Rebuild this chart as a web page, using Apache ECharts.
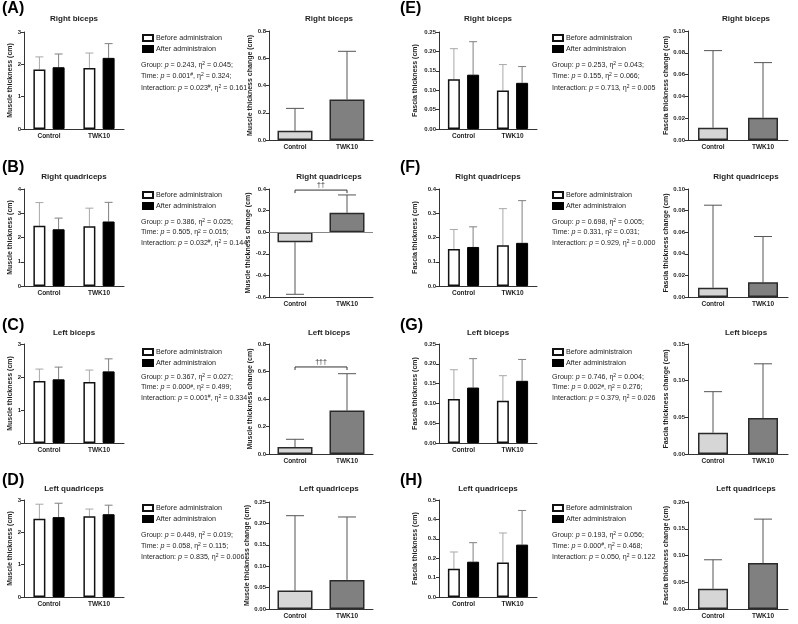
<!DOCTYPE html>
<html><head><meta charset="utf-8">
<script src="https://cdn.jsdelivr.net/npm/echarts@6/dist/echarts.min.js"></script>
<style>html,body{margin:0;padding:0;background:#fff}#c{width:798px;height:624px}</style>
</head><body><div id="c"></div>
<script>
const categories = ['Control', 'TWK10'];
const panelLetters = ['(A)', '(B)', '(C)', '(D)', '(E)', '(F)', '(G)', '(H)'];
const panelTitles = ['Right biceps', 'Right quadriceps', 'Left biceps', 'Left quadriceps',
                     'Right biceps', 'Right quadriceps', 'Left biceps', 'Left quadriceps'];
const legendNames = ['Before administraion', 'After administraion'];
const statLabels = ['Group', 'Time', 'Interaction'];

// Muscle thickness (cm): mean and SD, [Control, TWK10]
const A_before = [1.84, 1.89], A_beforeSD = [0.39, 0.46];
const A_after = [1.91, 2.20], A_afterSD = [0.41, 0.44];
const A_change = [0.068, 0.298], A_changeSD = [0.164, 0.353];
const A_p = ['0.243', '0.001#', '0.023#'], A_eta = ['0.045', '0.324', '0.161'];

const B_before = [2.48, 2.46], B_beforeSD = [0.96, 0.75];
const B_after = [2.34, 2.66], B_afterSD = [0.46, 0.79];
const B_change = [-0.093, 0.18], B_changeSD = [0.482, 0.165];
const B_p = ['0.386', '0.505', '0.032#'], B_eta = ['0.025', '0.015', '0.144'];

const C_before = [1.88, 1.85], C_beforeSD = [0.36, 0.36];
const C_after = [1.93, 2.17], C_afterSD = [0.37, 0.38];
const C_change = [0.051, 0.316], C_changeSD = [0.056, 0.268];
const C_p = ['0.367', '0.000#', '0.001#'], C_eta = ['0.027', '0.499', '0.334'];

const D_before = [2.42, 2.50], D_beforeSD = [0.45, 0.22];
const D_after = [2.47, 2.56], D_afterSD = [0.43, 0.28];
const D_change = [0.043, 0.068], D_changeSD = [0.175, 0.147];
const D_p = ['0.449', '0.058', '0.835'], D_eta = ['0.019', '0.115', '0.006'];

// Fascia thickness (cm)
const E_before = [0.128, 0.099], E_beforeSD = [0.079, 0.067];
const E_after = [0.140, 0.119], E_afterSD = [0.085, 0.042];
const E_change = [0.0113, 0.0204], E_changeSD = [0.0707, 0.0506];
const E_p = ['0.253', '0.155', '0.713'], E_eta = ['0.043', '0.066', '0.005'];

const F_before = [0.153, 0.168], F_beforeSD = [0.080, 0.151];
const F_after = [0.161, 0.178], F_afterSD = [0.083, 0.174];
const F_change = [0.0086, 0.0136], F_changeSD = [0.0764, 0.0424];
const F_p = ['0.698', '0.331', '0.929'], F_eta = ['0.005', '0.031', '0.000'];

const G_before = [0.111, 0.107], G_beforeSD = [0.074, 0.063];
const G_after = [0.140, 0.157], G_afterSD = [0.073, 0.054];
const G_change = [0.029, 0.049], G_changeSD = [0.056, 0.074];
const G_p = ['0.746', '0.002#', '0.379'], G_eta = ['0.004', '0.276', '0.026'];

const H_before = [0.145, 0.178], H_beforeSD = [0.087, 0.152];
const H_after = [0.182, 0.270], H_afterSD = [0.098, 0.176];
const H_change = [0.038, 0.086], H_changeSD = [0.054, 0.082];
const H_p = ['0.193', '0.000#', '0.050'], H_eta = ['0.056', '0.468', '0.122'];

// axis ranges [min, max, interval, decimals]
const groupedAxes = [[0, 3, 1, 0], [0, 4, 1, 0], [0, 3, 1, 0], [0, 3, 1, 0],
                     [0, 0.25, 0.05, 2], [0, 0.4, 0.1, 1], [0, 0.25, 0.05, 2], [0, 0.5, 0.1, 1]];
const changeAxes = [[0, 0.8, 0.2, 1], [-0.6, 0.4, 0.2, 1], [0, 0.8, 0.2, 1], [0, 0.25, 0.05, 2],
                    [0, 0.10, 0.02, 2], [0, 0.10, 0.02, 2], [0, 0.15, 0.05, 2], [0, 0.20, 0.05, 2]];
// significance brackets between Control and TWK10 on change panels
const sigLevels = [null, 0.39, 0.633, null, null, null, null, null];
const sigLabels = ['', '††', '†††', '', '', '', '', ''];

const panels = [
  [A_before, A_beforeSD, A_after, A_afterSD, A_change, A_changeSD, A_p, A_eta],
  [B_before, B_beforeSD, B_after, B_afterSD, B_change, B_changeSD, B_p, B_eta],
  [C_before, C_beforeSD, C_after, C_afterSD, C_change, C_changeSD, C_p, C_eta],
  [D_before, D_beforeSD, D_after, D_afterSD, D_change, D_changeSD, D_p, D_eta],
  [E_before, E_beforeSD, E_after, E_afterSD, E_change, E_changeSD, E_p, E_eta],
  [F_before, F_beforeSD, F_after, F_afterSD, F_change, F_changeSD, F_p, F_eta],
  [G_before, G_beforeSD, G_after, G_afterSD, G_change, G_changeSD, G_p, G_eta],
  [H_before, H_beforeSD, H_after, H_afterSD, H_change, H_changeSD, H_p, H_eta]
];

// ---------- layout (positions only) ----------
const rowY = [
  {letter: 9, title: 19, gTop: 32, gH: 97, cTop: 31, cH: 109, leg: 33.5, stats: [65, 76, 88]},
  {letter: 168, title: 177, gTop: 189, gH: 97, cTop: 189, cH: 108, leg: 190.5, stats: [222, 232.5, 243]},
  {letter: 326, title: 333, gTop: 344, gH: 99, cTop: 344, cH: 110, leg: 347.5, stats: [377, 387.5, 398]},
  {letter: 481, title: 489, gTop: 500, gH: 97, cTop: 502, cH: 107, leg: 503.5, stats: [535, 546, 557]}
];
const halfX = [
  {letter: 2, gLeft: 24, gW: 100, cLeft: 269, cW: 104, cBar: 35, leg: 142, stats: 141, gNameGap: 10},
  {letter: 400, gLeft: 439, gW: 98, cLeft: 688, cW: 100, cBar: 30, leg: 552, stats: 552, gNameGap: 20}
];
const FONT = 'Liberation Sans, Arial, sans-serif';
const TXT = '#1e1e1e';

const grid = [], xAxis = [], yAxis = [], series = [], legend = [], graphics = [];

function makeErr(offset, capHalf, color, lw) {
  return function (params, api) {
    const c = api.value(0), m = api.value(1), sd = api.value(2);
    const e = m >= 0 ? m + sd : m - sd;
    const p0 = api.coord([c, m]);
    const p1 = api.coord([c, e]);
    const x = p0[0] + offset;
    return {type: 'group', children: [
      {type: 'line', shape: {x1: x, y1: p0[1], x2: x, y2: p1[1]}, style: {stroke: color, lineWidth: lw}},
      {type: 'line', shape: {x1: x - capHalf, y1: p1[1], x2: x + capHalf, y2: p1[1]}, style: {stroke: color, lineWidth: lw}}
    ]};
  };
}

function axisY(gi, rng, name, gap) {
  return {
    gridIndex: gi, type: 'value', min: rng[0], max: rng[1], interval: rng[2],
    name: name, nameLocation: 'middle', nameGap: gap,
    nameTextStyle: {fontSize: 7, fontWeight: 'bold', fontFamily: FONT, color: TXT},
    axisLine: {show: true, lineStyle: {color: '#333', width: 1}},
    axisTick: {show: true, length: 3, lineStyle: {color: '#333'}},
    axisLabel: {fontSize: 6, fontWeight: 'bold', fontFamily: FONT, color: TXT, margin: 3,
                formatter: v => v.toFixed(rng[3])},
    splitLine: {show: false}
  };
}
function axisX(gi) {
  return {
    gridIndex: gi, type: 'category', data: categories,
    axisLine: {onZero: false, lineStyle: {color: '#333', width: 1}},
    axisTick: {alignWithLabel: true, length: 3, lineStyle: {color: '#333'}},
    axisLabel: {fontSize: 6.5, fontWeight: 'bold', fontFamily: FONT, color: TXT, margin: 4, interval: 0}
  };
}

for (let i = 0; i < 8; i++) {
  const r = rowY[i % 4], h = halfX[Math.floor(i / 4)];
  const [bef, befSD, aft, aftSD, chg, chgSD, pv, eta] = panels[i];
  const isFascia = i >= 4;
  const gi = i * 2, ci = i * 2 + 1;

  // grouped panel
  grid.push({left: h.gLeft, top: r.gTop, width: h.gW, height: r.gH});
  xAxis.push(axisX(gi));
  yAxis.push(axisY(gi, groupedAxes[i], isFascia ? 'Fascia thickness (cm)' : 'Muscle thickness (cm)', h.gNameGap));
  series.push({type: 'bar', name: legendNames[0], xAxisIndex: gi, yAxisIndex: gi, data: bef,
    barWidth: 12, barGap: '60%',
    itemStyle: {color: '#ffffff', borderColor: '#111', borderWidth: 1.5}});
  series.push({type: 'bar', name: legendNames[1], xAxisIndex: gi, yAxisIndex: gi, data: aft,
    barWidth: 12, barGap: '60%',
    itemStyle: {color: '#000000', borderColor: '#000', borderWidth: 1}});
  series.push({type: 'custom', xAxisIndex: gi, yAxisIndex: gi, z: 1,
    renderItem: makeErr(-9.6, 4, '#a8a8a8', 1),
    data: bef.map((v, k) => [k, v, befSD[k]])});
  series.push({type: 'custom', xAxisIndex: gi, yAxisIndex: gi, z: 1,
    renderItem: makeErr(9.6, 4, '#808080', 1),
    data: aft.map((v, k) => [k, v, aftSD[k]])});

  // change panel
  grid.push({left: h.cLeft, top: r.cTop, width: h.cW, height: r.cH});
  xAxis.push(axisX(ci));
  yAxis.push(axisY(ci, changeAxes[i], isFascia ? 'Fascia thickness change (cm)' : 'Muscle thickness change (cm)', 14));
  const chgSeries = {type: 'bar', xAxisIndex: ci, yAxisIndex: ci, barWidth: h.cBar,
    data: chg.map((v, k) => ({value: v, itemStyle: {color: k === 0 ? '#d6d6d6' : '#808080'}})),
    itemStyle: {borderColor: '#2a2a2a', borderWidth: 1.5}};
  if (changeAxes[i][0] < 0) {
    chgSeries.markLine = {silent: true, symbol: 'none', label: {show: false},
      lineStyle: {color: '#888', width: 1, type: 'solid'}, data: [{yAxis: 0}]};
  }
  series.push(chgSeries);
  series.push({type: 'custom', xAxisIndex: ci, yAxisIndex: ci, z: 1,
    renderItem: makeErr(0, 9, '#555', 1),
    data: chg.map((v, k) => [k, v, chgSD[k]])});
  if (sigLevels[i] !== null) {
    const lab = sigLabels[i];
    series.push({type: 'custom', xAxisIndex: ci, yAxisIndex: ci, z: 5,
      renderItem: function (params, api) {
        const p0 = api.coord([api.value(0), api.value(2)]);
        const p1 = api.coord([api.value(1), api.value(2)]);
        return {type: 'group', children: [
          {type: 'polyline', shape: {points: [[p0[0], p0[1] + 3], [p0[0], p0[1]], [p1[0], p1[1]], [p1[0], p1[1] + 3]]},
           style: {stroke: '#333', lineWidth: 1, fill: null}},
          {type: 'text', x: (p0[0] + p1[0]) / 2, y: p0[1] - 5,
           style: {text: lab, fontSize: 7, fontFamily: FONT, fill: TXT, align: 'center', verticalAlign: 'middle'}}
        ]};
      },
      data: [[0, 1, sigLevels[i]]]});
  }

  // legend
  legend.push({orient: 'vertical', left: h.leg, top: r.leg, padding: 0, itemWidth: 10, itemHeight: 6, itemGap: 2,
    icon: 'rect', selectedMode: false, data: legendNames,
    textStyle: {fontSize: 7.2, fontFamily: FONT, color: TXT, lineHeight: 9, padding: [0, 0, 0, -2]}});

  // stats text
  for (let k = 0; k < 3; k++) {
    const pStr = pv[k].replace('#', '');
    const hash = pv[k].indexOf('#') >= 0 ? '{s|#}' : '';
    const txt = statLabels[k] + ': {i|p} = ' + pStr + hash + ', η{s|2} = ' + eta[k] + (k < 2 ? ';' : '');
    graphics.push({type: 'text', x: h.stats, y: r.stats[k],
      style: {text: txt, fontSize: 7.1, fontFamily: FONT, fill: TXT, verticalAlign: 'middle', align: 'left',
        rich: {i: {fontStyle: 'italic', fontSize: 7.1, fontFamily: FONT, fill: TXT},
               s: {fontSize: 5, fontFamily: FONT, fill: TXT, verticalAlign: 'top', lineHeight: 6, padding: [0, 0, 4, 0]}}}});
  }
  // titles and letters
  graphics.push({type: 'text', x: h.gLeft + h.gW / 2, y: r.title,
    style: {text: panelTitles[i], fontSize: 8, fontWeight: 'bold', fontFamily: FONT, fill: TXT, align: 'center', verticalAlign: 'middle'}});
  graphics.push({type: 'text', x: h.cLeft + h.cW / 2 + 8, y: r.title,
    style: {text: panelTitles[i], fontSize: 8, fontWeight: 'bold', fontFamily: FONT, fill: TXT, align: 'center', verticalAlign: 'middle'}});
  graphics.push({type: 'text', x: h.letter, y: r.letter,
    style: {text: panelLetters[i], fontSize: 16, fontWeight: 'bold', fontFamily: FONT, fill: '#000', align: 'left', verticalAlign: 'middle'}});
}

const chart = echarts.init(document.getElementById('c'), null, {renderer: 'canvas'});
chart.setOption({
  animation: false,
  backgroundColor: '#ffffff',
  textStyle: {fontFamily: FONT},
  grid, xAxis, yAxis, series, legend,
  graphic: {elements: graphics}
});
</script></body></html>
